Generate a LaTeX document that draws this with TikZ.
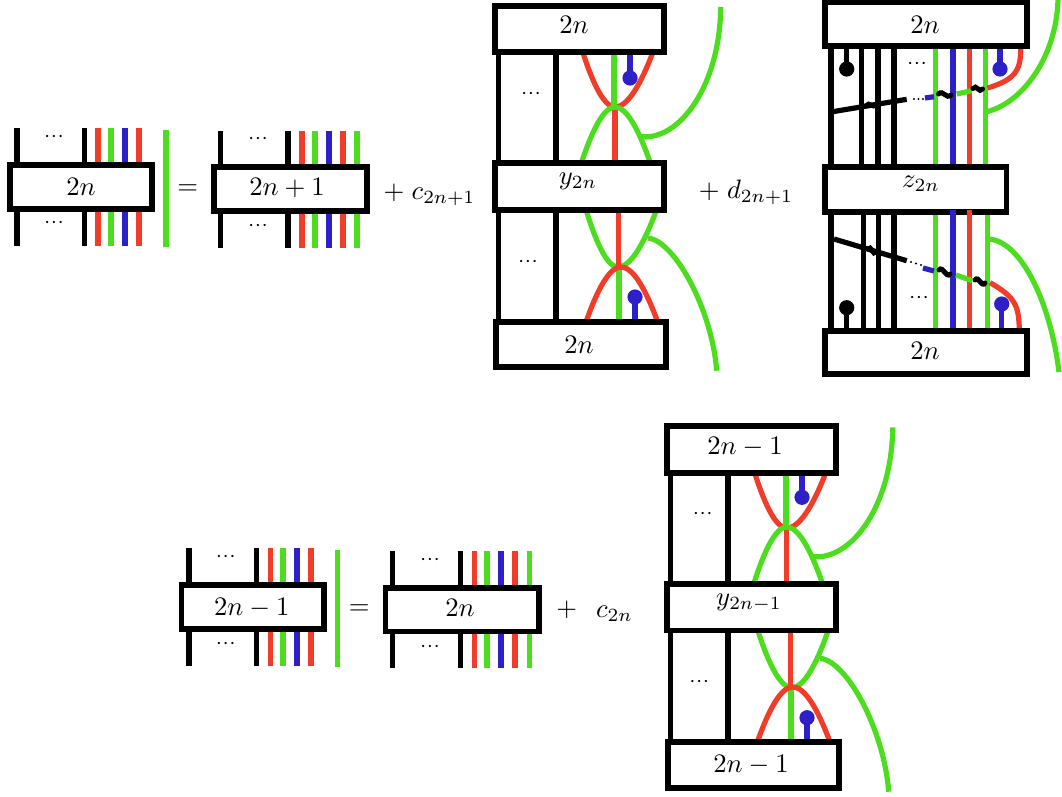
\documentclass[tikz,border=0pt]{standalone}
\definecolor{wred}{RGB}{240,60,40}
\definecolor{wgreen}{RGB}{75,221,30}
\definecolor{wblue}{RGB}{46,32,200}
\newcommand{\uu}{0.386}
\newcommand{\boxnode}[5]{% name x0 y0 x1 y1 (outer edges)
  \node[boxn,minimum width={((#4)-(#2)-5.6)*\uu pt},minimum height={((#5)-(#3)-5.6)*\uu pt}] (#1) at ({((#2)+(#4))/2},{((#3)+(#5))/2}) {};}
% parabola: style x0 y0 xm ym x1 y1
\newcommand{\parab}[7]{%
  \draw[#1] (#2,#3) .. controls ({(#2)+0.34*((#4)-(#2))},{(#3)+0.62*((#5)-(#3))}) and ({(#2)+0.68*((#4)-(#2))},#5) .. (#4,#5)
   .. controls ({(#4)+0.32*((#6)-(#4))},#5) and ({(#4)+0.66*((#6)-(#4))},{(#7)+0.62*((#5)-(#7))}) .. (#6,#7);}
\newcommand{\wig}[4]{%
  \draw[wavy] (#1,#2) .. controls ({(#1)+0.35*((#3)-(#1))},{(#2)-5}) and ({(#1)+0.65*((#3)-(#1))},{(#4)+5}) .. (#3,#4);}
\tikzset{
  boxn/.style={draw=black,fill=white,line width=5.6*\uu pt,inner sep=0pt,outer sep=0pt},
  bw/.style={draw=black,line width=5.2*\uu pt},
  rw/.style={draw=wred,line width=5.2*\uu pt},
  gw/.style={draw=wgreen,line width=5.2*\uu pt},
  lw/.style={draw=wblue,line width=5.2*\uu pt},
  wavy/.style={draw=black,line width=5*\uu pt,line cap=round},
  txt/.style={anchor=base,inner sep=0pt,outer sep=0pt,scale=1.03},
  dts/.style={anchor=center,inner sep=0pt,outer sep=0pt,scale=1.1},
}
\newcommand{\tn}[4]{\node[txt] (#1) at (#2,#3) {$#4$};}
\newcommand{\dn}[3]{\node[dts] (#1) at (#2,#3) {$\scriptstyle\cdots$};}
\begin{document}
\begin{tikzpicture}[x=\uu pt,y=-\uu pt]
\useasboundingbox (0,0) rectangle (1062,796);
%---- first row left
\foreach \x/\c in {17/bw,84.5/bw,98/rw,111/gw,125/lw,139/rw}{
  \draw[\c] (\x,128) -- (\x,245.5);}
\draw[gw] (166,130) -- (166,247);
\boxnode{aone}{7}{162}{155}{212}
\tn{atxt}{81}{195.7}{2n}
\dn{adt}{54}{137}\dn{adb}{54}{223}
\tn{aeq}{187.7}{194.5}{=}
\foreach \x/\c in {220.7/bw,288/bw,302/rw,315/gw,329/lw,343/rw,357/gw}{
  \draw[\c] (\x,131) -- (\x,248);}
\boxnode{atwo}{211}{164}{370}{214}
\tn{btxt}{287}{195.7}{2n+1}
\dn{bdt}{258}{139}\dn{bdb}{258}{226}
\tn{cone}{429.5}{199}{+\;c_{2n+1}}
%---- Y diagram one
\draw[bw] (498.7,52) -- (498.7,162);
\draw[bw] (556,52) -- (556,162);
\draw[bw] (498.7,212) -- (498.7,322);
\draw[bw] (556,212) -- (556,322);
\parab{rw}{582.7}{52}{615}{107}{653}{52}
\draw[gw] (614,52) -- (614,107);
\draw[lw] (630,52) -- (630,78);
\fill[wblue] (630,78) circle[radius=7.6];
\draw[rw] (615,107) -- (615,162);
\parab{gw}{581.7}{162}{615}{107}{650}{162}
\draw[gw] (642,136.7) .. controls (680,140) and (720,85) .. (720.7,7);
\parab{gw}{586.7}{212}{618}{267}{655.7}{212}
\draw[rw] (618.7,212) -- (618.7,267);
\draw[gw] (619,267) -- (619,322);
\parab{rw}{586}{322}{621}{267}{657.7}{322}
\draw[lw] (635,322) -- (635,297);
\fill[wblue] (635,297) circle[radius=7.6];
\draw[gw] (648,238) .. controls (675,241) and (712,310) .. (716.7,370.7);
\boxnode{yt}{492}{3}{667}{55}
\boxnode{ym}{492}{160}{667}{213}
\boxnode{yb}{493}{319}{669}{370}
\tn{yttxt}{574}{33.5}{2n}
\tn{ymtxt}{578}{184}{y_{2n}}
\tn{ybtxt}{579}{353.3}{2n}
\dn{ydt}{531}{94}\dn{ydb}{528}{262}
\tn{done}{746}{198}{+\;d_{2n+1}}
%---- Z diagram
\foreach \x/\c in {831/bw,861.7/bw,878/bw,894/bw,935.7/gw,953/lw,969.7/rw,985.7/gw}{
  \draw[\c] (\x,47) -- (\x,166);}
\draw[bw] (846.7,47) -- (846.7,69);
\fill[black] (846.7,69) circle[radius=7.6];
\draw[lw] (1000,47) -- (1000,69);
\fill[wblue] (1000,69) circle[radius=7.6];
\draw[rw] (1020.7,47) .. controls (1020.7,68) and (1018,79) .. (987.5,88);
\draw[gw] (986.7,111.7) .. controls (1020,104) and (1056,60) .. (1058,0);
\draw[bw] (832.7,111.7) -- (906.7,99.3);
\wig{866}{105.8}{876}{104.2}
\foreach \x in {914,918.5,923}{\fill[black] (\x,99) circle[radius=1.1];}
\draw[lw] (925,98) -- (934,96.7);
\wig{938.5}{94}{951}{95}
\draw[gw] (956.7,94) -- (971.7,90.7);
\wig{973}{88.5}{982.5}{89}
%
\foreach \x/\c in {831/bw,863.3/bw,878.3/bw,894/bw,935.7/gw,953/lw,969.7/rw,987.3/gw}{
  \draw[\c] (\x,213) -- (\x,331);}
\draw[bw] (846.7,331) -- (846.7,307.7);
\fill[black] (846.7,307.7) circle[radius=7.6];
\draw[lw] (1001.7,331) -- (1001.7,304);
\fill[wblue] (1001.7,304) circle[radius=7.6];
\draw[rw] (1019.3,331) .. controls (1019,305) and (1015,297) .. (990,282.7);
\draw[gw] (988,239) .. controls (1020,240) and (1050,300) .. (1059,372);
\draw[bw] (834,239) -- (906.7,260.7);
\wig{868}{249}{876}{252}
\foreach \x in {911,916,921}{\fill[black] (\x,{262+0.3*(\x-911)}) circle[radius=1.1];}
\draw[lw] (923,268) -- (934,271);
\wig{939}{270}{950}{274}
\draw[gw] (956,275) -- (972,280.7);
\wig{975}{280}{985}{283}
\boxnode{zt}{822}{-0.5}{1030}{49}
\boxnode{zm}{822}{164.3}{1009.3}{215}
\boxnode{zb}{822}{328.3}{1030}{376.7}
\draw[lw] (953,210) -- (953,216);
\draw[rw] (969.7,210) -- (969.7,216);
\tn{zttxt}{925}{33.3}{2n}
\tn{zmtxt}{921}{187.7}{z_{2n}}
\tn{zbtxt}{925}{359.3}{2n}
\dn{zdt}{917}{64}\dn{zdb}{919}{298}
%---- second row left
\foreach \x/\c in {189/bw,256.3/bw,270.3/rw,283/gw,297/lw,311/rw}{
  \draw[\c] (\x,548.3) -- (\x,665.7);}
\draw[gw] (337.7,550) -- (337.7,667);
\boxnode{bone}{178.7}{582.3}{326.7}{632}
\tn{bonetxt}{251.7}{615.3}{2n-1}
\dn{cdt}{225.7}{557.3}\dn{cdb}{225.7}{644.3}
\tn{beq}{359.3}{614.5}{=}
\foreach \x/\c in {392.7/bw,460.3/bw,474.3/rw,487/gw,501/lw,515/rw,529.3/gw}{
  \draw[\c] (\x,551) -- (\x,668.3);}
\boxnode{btwo}{382.7}{585}{541.7}{634.3}
\tn{btwotxt}{460}{616.7}{2n}
\dn{ddt}{430}{560}\dn{ddb}{430}{646.7}
\tn{bplus}{566.7}{616.5}{+}
\tn{ctwo}{614.5}{617.7}{c_{2n}}
%---- Y diagram two
\draw[bw] (670.7,473) -- (670.7,583);
\draw[bw] (728,473) -- (728,583);
\draw[bw] (670.7,632) -- (670.7,742);
\draw[bw] (728,632) -- (728,742);
\parab{rw}{754.7}{473}{786.7}{528}{825.7}{473}
\draw[gw] (786,473) -- (786,528);
\draw[lw] (802,473) -- (802,497.3);
\fill[wblue] (802,497.3) circle[radius=7.6];
\draw[rw] (786.7,528) -- (786.7,583);
\parab{gw}{754}{583}{786.7}{527}{822.3}{583}
\draw[gw] (813.3,556.7) .. controls (852,560) and (892,505) .. (892.7,427.3);
\parab{gw}{758.3}{632}{791.7}{687.7}{827.7}{632}
\draw[rw] (790.3,632) -- (790.3,687.7);
\draw[gw] (791,687.7) -- (791,742);
\parab{rw}{757.3}{742}{792.7}{687}{830}{742}
\draw[lw] (807,742) -- (807,717.7);
\fill[wblue] (807,717.7) circle[radius=7.6];
\draw[gw] (820,658.3) .. controls (847,661) and (884,730) .. (888.7,791.7);
\boxnode{vt}{664}{423.3}{839}{475.7}
\boxnode{vm}{664}{581}{839}{633.3}
\boxnode{vb}{665.3}{739}{841.7}{790.7}
\tn{vttxt}{745}{454.3}{2n-1}
\tn{vmtxt}{749}{605}{y_{2n-1}}
\tn{vbtxt}{751}{772.7}{2n-1}
\dn{vdt}{702.7}{514.3}\dn{vdb}{699.3}{682.3}
\end{tikzpicture}
\end{document}
